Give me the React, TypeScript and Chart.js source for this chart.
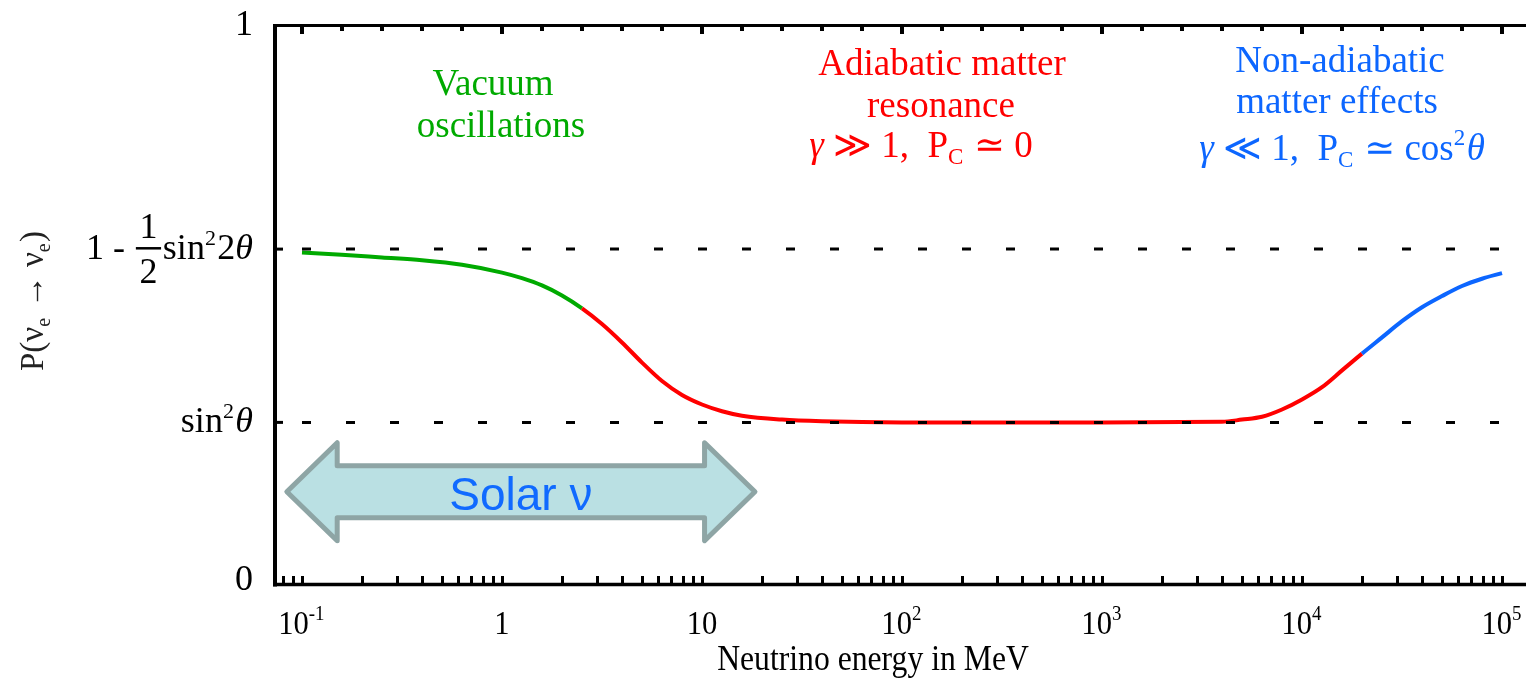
import React, { useEffect, useRef } from "react";
import { Chart, registerables } from "chart.js";

Chart.register(...registerables);

// ---------- data ----------
// neutrino energy in MeV
const energies = [
  0.1, 0.158, 0.251, 0.398, 0.631, 1, 1.259, 1.585, 1.995, 2.512,
  3.162, 3.981, 5.012, 6.31, 7.943, 10, 12.59, 15.85, 25.12, 39.81,
  100, 1000, 3981,
  5012, 6310, 7943, 10000, 12590, 15850, 19950,
  25120, 31620, 39810, 50120, 63100, 79430, 100000,
];
// survival probability P(nu_e -> nu_e)
const survivalProb = [
  0.594, 0.59, 0.585, 0.58, 0.572, 0.558, 0.548, 0.535, 0.517, 0.494,
  0.466, 0.433, 0.397, 0.364, 0.339, 0.322, 0.31, 0.302, 0.295, 0.292,
  0.29, 0.29, 0.291,
  0.295, 0.3, 0.313, 0.331, 0.353, 0.383, 0.413,
  0.442, 0.471, 0.496, 0.516, 0.534, 0.547, 0.557,
];
// regime boundaries (MeV)
const vacuumEnd = 2.5;
const nonAdiabaticStart = 19900;

// dashed reference levels: 1 - 1/2 sin^2 2θ  and  sin^2 θ
const dashedLevels = [0.6, 0.29];
const dashedRange = [0.1, 100000];

// axes
const xMin = 0.0733;
const xMax = 131800;
const xTickValues = [0.1, 1, 10, 100, 1000, 10000, 100000];
const xTickBases = ["10", "1", "10", "10", "10", "10", "10"];
const xTickExponents = ["-1", "", "", "2", "3", "4", "5"];

type Run = { t?: string; sup?: boolean; sub?: boolean; italic?: boolean; frac?: [string, string] };

const yTickValues = [0, 0.29, 0.6, 1];
const yTickLabels: Run[][] = [
  [{ t: "0" }],
  [{ t: "sin" }, { t: "2", sup: true }, { t: "θ", italic: true }],
  [{ t: "1" }, { t: " - " }, { frac: ["1", "2"] }, { t: "sin" }, { t: "2", sup: true }, { t: "2" }, { t: "θ", italic: true }],
  [{ t: "1" }],
];

// Solar neutrino arrow range (MeV)
const solarArrowTips = [0.084, 18.4];
const solarArrowHeads = [0.15, 10.3];
const solarArrowLevel = 0.166;

// ---------- styles ----------
const GREEN = "rgb(0,170,0)";
const RED = "rgb(255,0,0)";
const BLUE = "rgb(12,102,255)";
const SERIF = "'Liberation Serif', 'DejaVu Serif', serif";
const SANS = "'Liberation Sans', Arial, sans-serif";

const annotations: { runs: Run[]; color: string; x: number; y: number }[] = [
  { runs: [{ t: "Vacuum" }], color: GREEN, x: 493, y: 95 },
  { runs: [{ t: "oscillations" }], color: GREEN, x: 501, y: 137 },
  { runs: [{ t: "Adiabatic matter" }], color: RED, x: 942, y: 75 },
  { runs: [{ t: "resonance" }], color: RED, x: 941, y: 117 },
  {
    runs: [{ t: "γ", italic: true }, { t: " ≫ 1,  " }, { t: "P" }, { t: "C", sub: true }, { t: " ≃ 0" }],
    color: RED, x: 921, y: 157,
  },
  { runs: [{ t: "Non-adiabatic" }], color: BLUE, x: 1340, y: 72 },
  { runs: [{ t: "matter effects" }], color: BLUE, x: 1337, y: 113 },
  {
    runs: [
      { t: "γ", italic: true }, { t: " ≪ 1,  " }, { t: "P" }, { t: "C", sub: true },
      { t: " ≃ cos" }, { t: "2", sup: true }, { t: "θ", italic: true },
    ],
    color: BLUE, x: 1342, y: 160,
  },
];

// ---------- rich text helpers ----------
function fontFor(r: Run, size: number, family: string) {
  const s = r.sup || r.sub ? Math.round(size * 0.62) : size;
  return `${r.italic ? "italic " : ""}${s}px ${family}`;
}
function runWidth(ctx: CanvasRenderingContext2D, r: Run, size: number, family: string) {
  if (r.frac) {
    ctx.font = `${size}px ${family}`;
    return Math.max(ctx.measureText(r.frac[0]).width, ctx.measureText(r.frac[1]).width) + size * 0.3;
  }
  ctx.font = fontFor(r, size, family);
  return ctx.measureText(r.t || "").width + (r.sup || r.sub ? size * 0.04 : 0);
}
function drawRuns(
  ctx: CanvasRenderingContext2D, runs: Run[], x: number, y: number, size: number,
  family: string, color: string, align: "left" | "center" | "right", sx = 1
) {
  ctx.save();
  ctx.translate(x, y);
  ctx.scale(sx, 1);
  const widths = runs.map((r) => runWidth(ctx, r, size, family));
  const total = widths.reduce((a, b) => a + b, 0);
  let cx = align === "left" ? 0 : align === "center" ? -total / 2 : -total;
  ctx.fillStyle = color;
  ctx.strokeStyle = color;
  ctx.textBaseline = "alphabetic";
  runs.forEach((r, i) => {
    const w = widths[i];
    if (r.frac) {
      ctx.font = `${size}px ${family}`;
      const barY = -size * 0.3;
      ctx.lineWidth = Math.max(1.5, size * 0.07);
      ctx.beginPath();
      ctx.moveTo(cx + size * 0.05, barY);
      ctx.lineTo(cx + w - size * 0.05, barY);
      ctx.stroke();
      ctx.textAlign = "center";
      ctx.fillText(r.frac[0], cx + w / 2, barY - size * 0.28);
      ctx.fillText(r.frac[1], cx + w / 2, barY + size * 0.95);
    } else {
      ctx.font = fontFor(r, size, family);
      ctx.textAlign = "left";
      const dy = r.sup ? -size * 0.4 : r.sub ? size * 0.2 : 0;
      ctx.fillText(r.t || "", cx, dy);
    }
    cx += w;
  });
  ctx.restore();
}

function segColor(x: number) {
  if (x < vacuumEnd) return GREEN;
  if (x < nonAdiabaticStart) return RED;
  return BLUE;
}

const decorPlugin = {
  id: "decor",
  afterDraw(chart: any) {
    const { ctx, chartArea: a, scales } = chart;
    const xs = scales.x;
    const ys = scales.y;
    ctx.save();
    const line = (x1: number, y1: number, x2: number, y2: number) => {
      ctx.beginPath();
      ctx.moveTo(x1, y1);
      ctx.lineTo(x2, y2);
      ctx.stroke();
    };
    ctx.strokeStyle = "#000";
    ctx.lineCap = "butt";
    // frame
    ctx.lineWidth = 4;
    line(a.left, a.top - 1.5, a.left, a.bottom + 2);
    ctx.lineWidth = 3;
    line(a.left - 2, a.top, a.right, a.top);
    ctx.lineWidth = 3.5;
    line(a.left - 2, a.bottom, a.right, a.bottom);

    // bottom ticks (log minor ticks)
    ctx.lineWidth = 3;
    for (let d = -2; d <= 5; d++) {
      for (let m = 1; m <= 9; m++) {
        const v = m * Math.pow(10, d);
        if (v < xMin || v > xMax) continue;
        const px = Math.round(xs.getPixelForValue(v)) + 0.5;
        line(px, a.bottom, px, a.bottom - 8.5);
      }
    }
    // top ticks: every 0.2 decade
    ctx.lineWidth = 4;
    for (let k = 0; k <= 30; k++) {
      const v = Math.pow(10, -1 + k * 0.2);
      const px = xs.getPixelForValue(v);
      line(px, a.top, px, a.top + (k % 5 === 0 ? 8.5 : 5.5));
    }
    // left ticks at reference levels
    ctx.lineWidth = 3;
    dashedLevels.forEach((lv) => {
      const py = ys.getPixelForValue(lv);
      line(a.left, py, a.left + 8, py);
    });

    // x tick labels
    xTickValues.forEach((v, i) => {
      const px = xs.getPixelForValue(v);
      const runs: Run[] = [{ t: xTickBases[i] }];
      if (xTickExponents[i]) runs.push({ t: xTickExponents[i], sup: true });
      drawRuns(ctx, runs, px, a.bottom + 49, 34, SERIF, "#000", "center", 0.9);
    });
    // x axis title
    drawRuns(ctx, [{ t: "Neutrino energy in MeV" }], 873, 670, 36, SERIF, "#000", "center", 0.88);

    // y tick labels
    yTickValues.forEach((v, i) => {
      const py = ys.getPixelForValue(v);
      const isDigit = yTickLabels[i].length === 1;
      drawRuns(ctx, yTickLabels[i], 253, py + (isDigit ? (v === 0 ? 5 : 9) : 10), 36, SERIF, "#000", "right");
    });

    // y axis title (rotated)
    ctx.save();
    ctx.translate(43, 301);
    ctx.rotate(-Math.PI / 2);
    drawRuns(
      ctx,
      [{ t: "P(" }, { t: "ν" }, { t: "e", sub: true }, { t: " → " }, { t: "ν" }, { t: "e", sub: true }, { t: ")" }],
      0, 0, 33, SERIF, "#222", "center"
    );
    ctx.restore();

    // annotations
    annotations.forEach((an) => drawRuns(ctx, an.runs, an.x, an.y, 37, SERIF, an.color, "center"));

    // Solar neutrino double arrow
    const lx = xs.getPixelForValue(solarArrowTips[0]);
    const rx = xs.getPixelForValue(solarArrowTips[1]);
    const lb = xs.getPixelForValue(solarArrowHeads[0]);
    const rb = xs.getPixelForValue(solarArrowHeads[1]);
    const cy = ys.getPixelForValue(solarArrowLevel);
    const hs = 26;
    const hh = 49;
    ctx.beginPath();
    ctx.moveTo(lx, cy);
    ctx.lineTo(lb, cy - hh);
    ctx.lineTo(lb, cy - hs);
    ctx.lineTo(rb, cy - hs);
    ctx.lineTo(rb, cy - hh);
    ctx.lineTo(rx, cy);
    ctx.lineTo(rb, cy + hh);
    ctx.lineTo(rb, cy + hs);
    ctx.lineTo(lb, cy + hs);
    ctx.lineTo(lb, cy + hh);
    ctx.closePath();
    ctx.fillStyle = "rgb(186,224,227)";
    ctx.fill();
    ctx.lineJoin = "round";
    ctx.lineWidth = 5;
    ctx.strokeStyle = "rgb(142,165,165)";
    ctx.stroke();
    ctx.font = `46px ${SANS}`;
    ctx.fillStyle = "rgb(16,106,255)";
    ctx.textAlign = "center";
    ctx.textBaseline = "alphabetic";
    ctx.fillText("Solar ν", (lb + rb) / 2, cy + 18);

    ctx.restore();
  },
};

export default function App() {
  const canvasRef = useRef<HTMLCanvasElement | null>(null);

  useEffect(() => {
    const canvas = canvasRef.current;
    if (!canvas) return;
    const chart = new Chart(canvas, {
      type: "line",
      data: {
        datasets: [
          ...dashedLevels.map((lv, i) => ({
            label: `level${i}`,
            data: dashedRange.map((x) => ({ x, y: lv })),
            borderColor: "#000",
            borderWidth: 3,
            borderDash: [9, 35],
            pointRadius: 0,
            fill: false,
            order: 0,
          })),
          {
            label: "P(νe → νe)",
            data: energies.map((e, i) => ({ x: e, y: survivalProb[i] })),
            borderColor: RED,
            borderWidth: 4,
            pointRadius: 0,
            fill: false,
            cubicInterpolationMode: "monotone" as const,
            segment: {
              borderColor: (c: any) => segColor(c.p0.parsed.x),
            },
            order: 1,
          },
        ],
      },
      options: {
        animation: false,
        responsive: false,
        devicePixelRatio: 1,
        layout: { padding: { left: 275, right: 0, top: 25.5, bottom: 93.5 } },
        plugins: { legend: { display: false }, tooltip: { enabled: false } },
        scales: {
          x: { type: "logarithmic", min: xMin, max: xMax, display: false },
          y: { type: "linear", min: 0, max: 1, display: false },
        },
      },
      plugins: [decorPlugin],
    });
    return () => chart.destroy();
  }, []);

  return (
    <div style={{ position: "fixed", left: 0, top: 0, width: 1526, height: 678, background: "#fff" }}>
      <canvas ref={canvasRef} width={1526} height={678} style={{ display: "block" }} />
    </div>
  );
}
